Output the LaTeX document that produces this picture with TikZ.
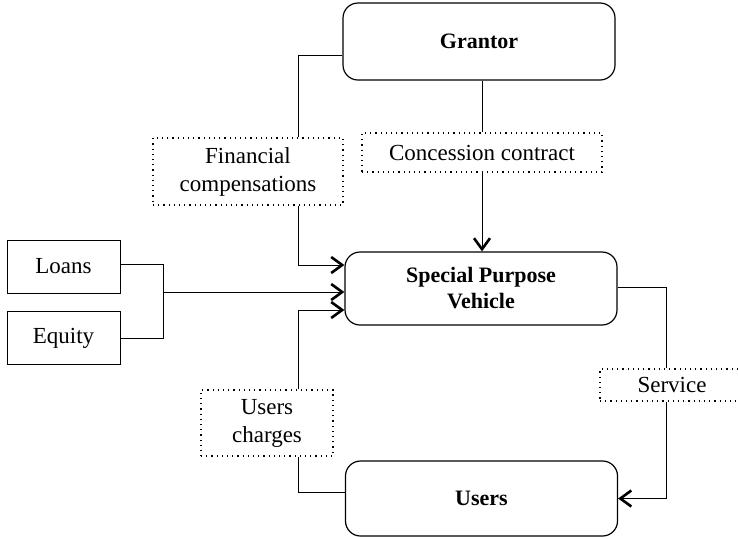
\documentclass[tikz,border=0pt]{standalone}
\usepackage{fontspec}
\setmainfont{Liberation Serif}
\usetikzlibrary{arrows.meta}
\begin{document}
\begin{tikzpicture}[x=0.5pt,y=-0.5pt,
    party/.style={draw,rounded corners=7.5pt,line width=0.6pt,minimum width=136pt,minimum height=37.5pt,
        font=\fontsize{11}{13}\selectfont\bfseries,align=center},
    source/.style={draw,line width=0.5pt,minimum width=56.5pt,minimum height=26.5pt,
        font=\fontsize{11.5}{14}\selectfont},
    flow/.style={draw,dotted,line width=0.6pt,inner ysep=2pt,font=\fontsize{11.5}{14}\selectfont,align=center},
    link/.style={line width=0.5pt},
    arr/.style={link,-{Straight Barb[length=5.5pt,width=8pt,line width=1.3pt]}}]
    \useasboundingbox (0,0) rectangle (738,538);
    \clip (0,0) rectangle (738,538);

    % main parties
    \node[party,minimum height=38.5pt] (grantor) at (479,41.5) {Grantor};
    \node[party,minimum height=36.5pt] (spv) at (481,288.5) {Special Purpose\\Vehicle};
    \node[party] (users) at (481.5,498.5) {Users};

    % funding
    \node[source] (loans) at (63.5,266.5) {Loans};
    \node[source] (equity) at (63.5,338) {Equity};

    % flows
    \node[flow,minimum width=95pt,minimum height=33.5pt] (fincomp) at (248,171.5) {Financial\\compensations};
    \node[flow,minimum width=120pt,minimum height=19.5pt] (concession) at (482,152.5) {Concession contract};
    \node[flow,minimum width=66pt,minimum height=33pt] (charges) at (267,423) {Users\\charges};
    \node[flow,minimum width=72pt,minimum height=16pt] (service) at (672,385) {Service};

    % grantor to spv
    \draw[link] ([yshift=-6.75pt]grantor.west) -| ([xshift=25pt]fincomp.north);
    \draw[arr] ([xshift=25pt]fincomp.south) |- ([yshift=11.75pt]spv.west);
    \draw[link] (concession.north |- grantor.south) -- (concession.north);
    \draw[arr] (concession.south) -- (concession.south |- spv.north);

    % loans and equity
    \draw[link] ([yshift=1.25pt]loans.east) -- ++(21.5pt,0) coordinate (fund) |- ([yshift=0pt]equity.east);
    \draw[arr] ([yshift=-1.75pt]spv.west -| fund) -- ([yshift=-1.75pt]spv.west);

    % users
    \draw[link] ([yshift=3.25pt]users.west) -| ([xshift=15.5pt]charges.south);
    \draw[arr] ([xshift=15.5pt]charges.north) |- ([yshift=-10.75pt]spv.west);
    \draw[link] ([yshift=0.75pt]spv.east) -| ([xshift=-3pt]service.north);
    \draw[arr] ([xshift=-3pt]service.south) |- (users.east);
\end{tikzpicture}
\end{document}
